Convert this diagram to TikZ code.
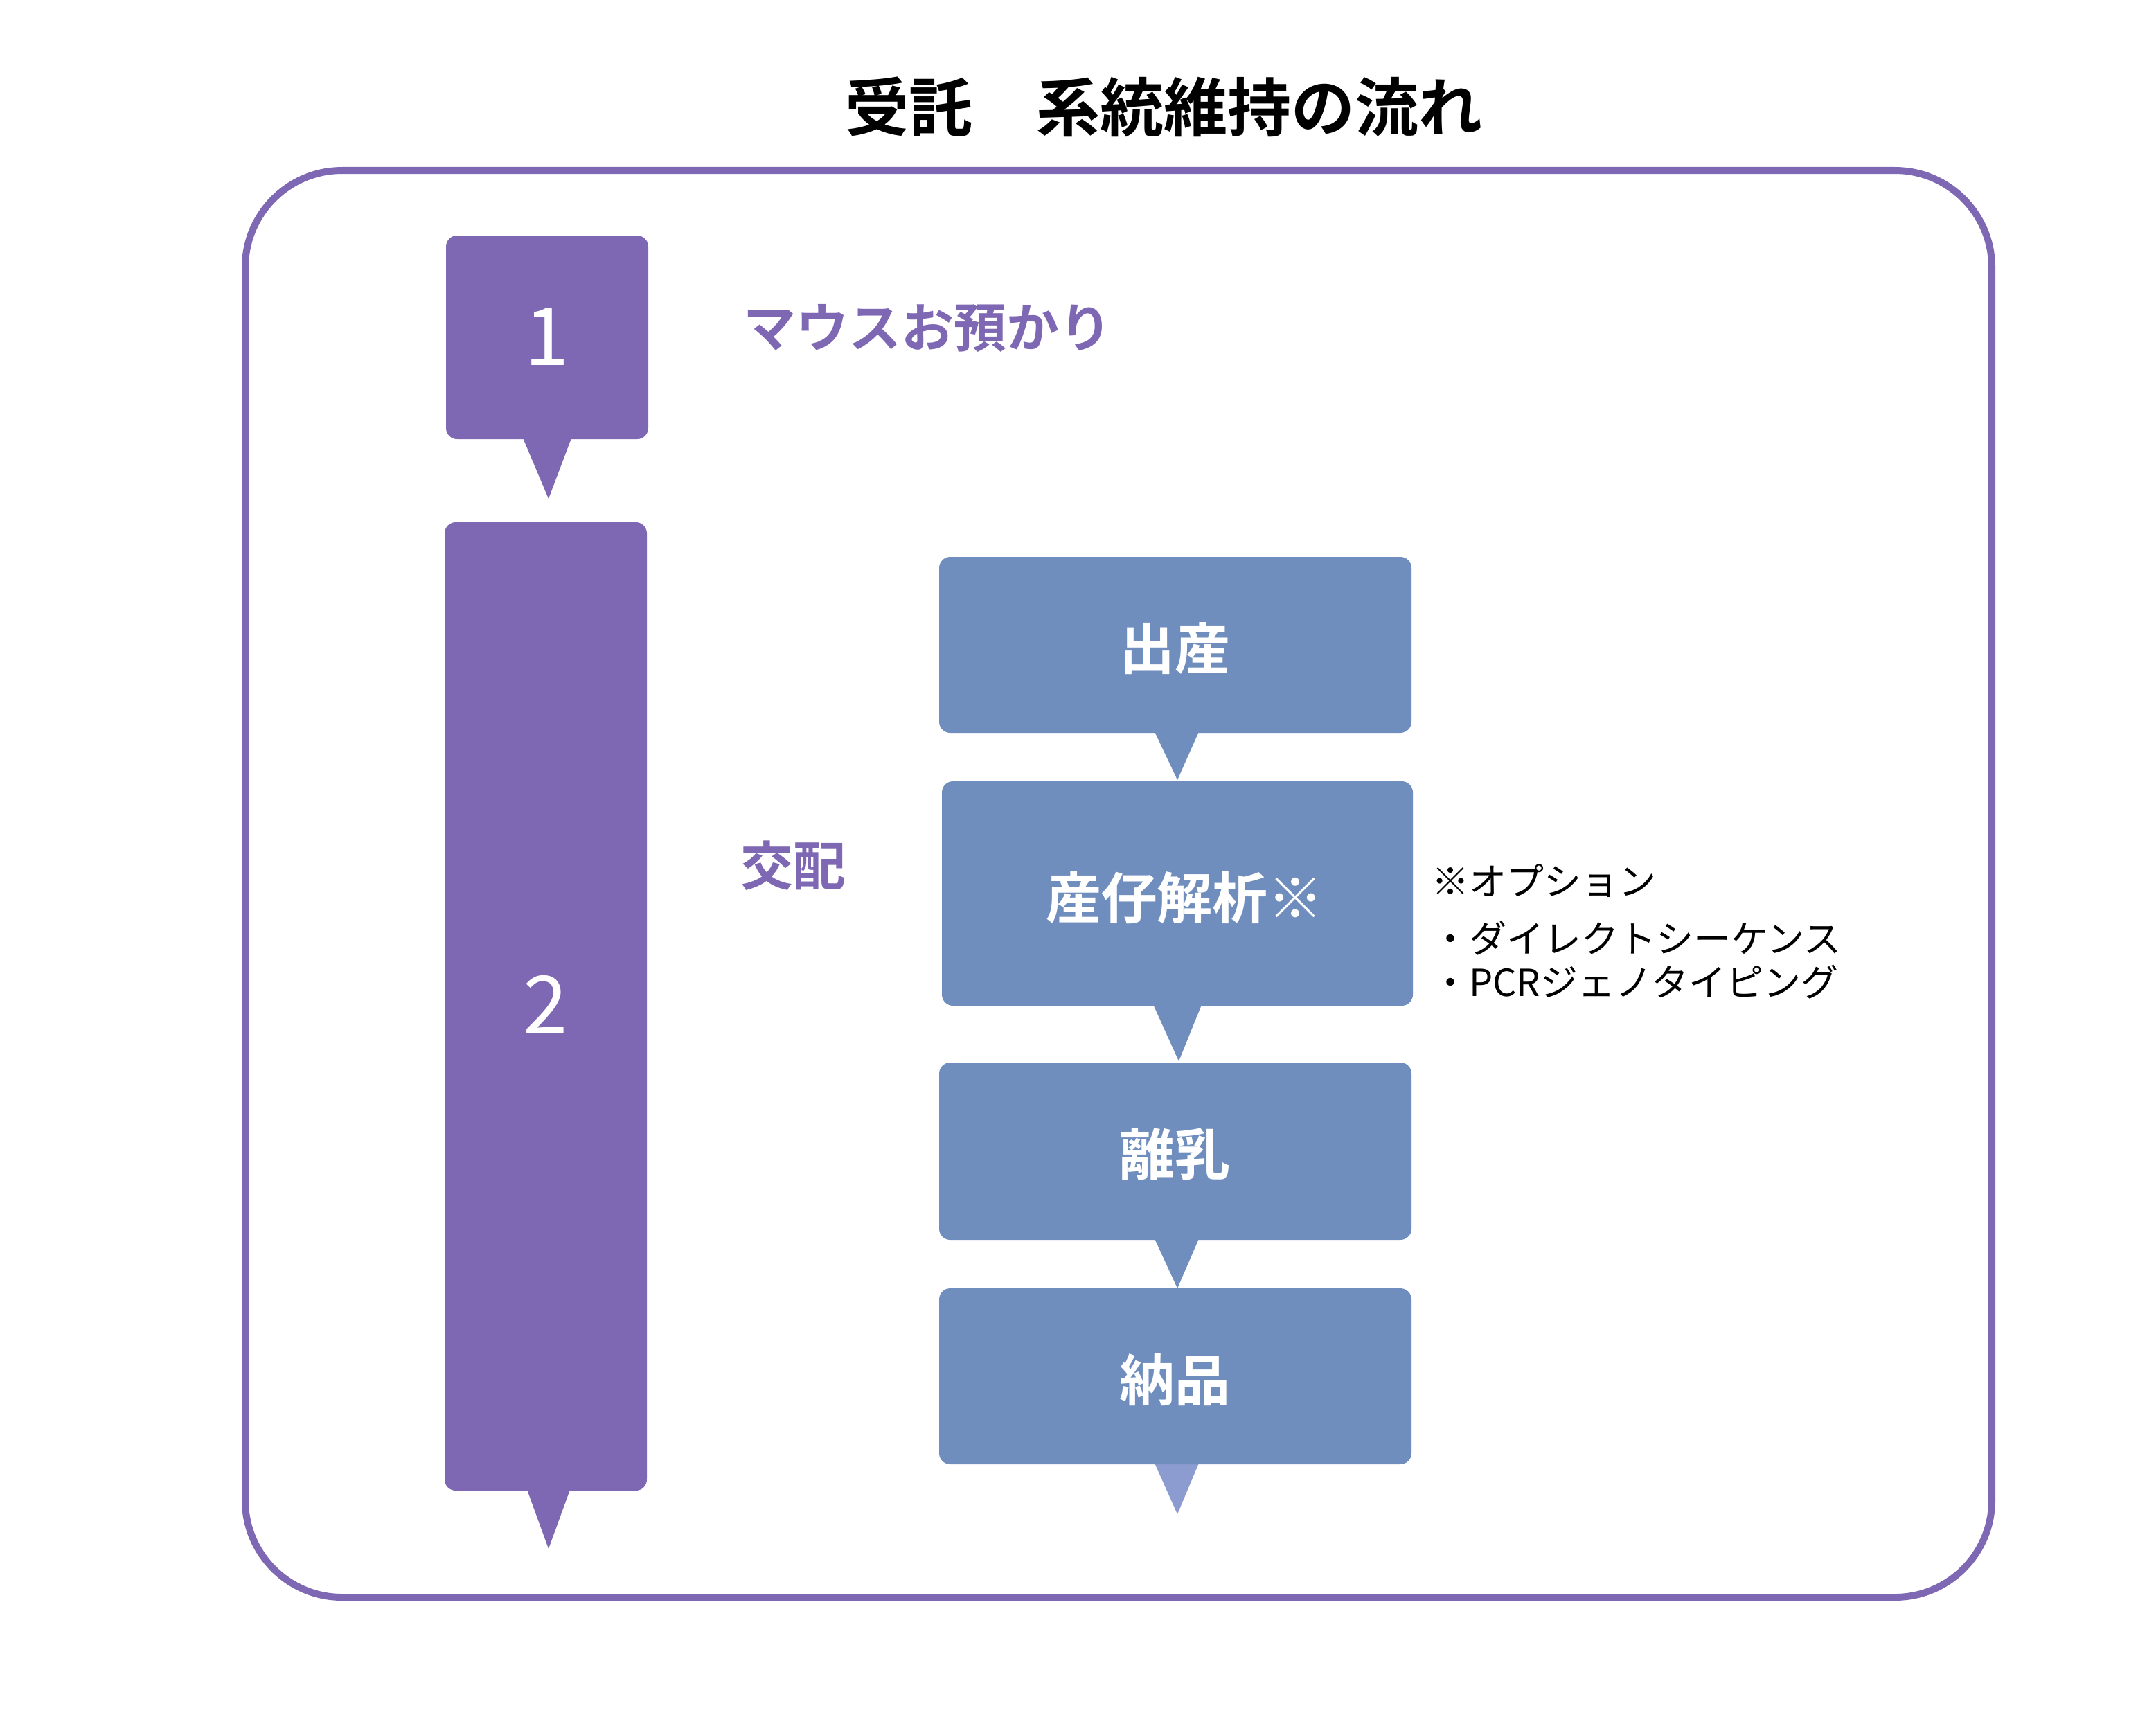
\documentclass[tikz,border=0pt]{standalone}
\usepackage{fontspec}
\setmainfont{Noto Sans CJK JP}
\newfontfamily\jpb{Noto Sans CJK JP Bold}
\definecolor{pur}{HTML}{7F68B3}
\definecolor{blu}{HTML}{6F8EBE}
\definecolor{lblu}{HTML}{8C9BD0}
\begin{document}
\begin{tikzpicture}[x=1pt,y=-1pt,
 pbox/.style={fill=pur,rounded corners=8pt},
 bbox/.style={fill=blu,rounded corners=8pt},
 wt/.style={text=white,font=\jpb\fontsize{40}{44}\selectfont},
 num/.style={text=white,font=\fontsize{58}{62}\selectfont},
 plab/.style={text=pur,font=\jpb\fontsize{38}{42}\selectfont,anchor=west},
 note/.style={font=\fontsize{27}{30}\selectfont,anchor=west}]
\useasboundingbox (0,0) rectangle (1556.5,1244);
\node[font=\jpb\fontsize{46}{50}\selectfont] (title) at (840,77) {受託\hspace{1em}系統維持の流れ};
\draw[pur,line width=5pt,rounded corners=70pt] (177,123) rectangle (1438,1153);
% step 1
\fill[pur] (377,315) -- (413,315) -- (396,360) -- cycle;
\path[pbox] (322,170) rectangle (468,317);
\node[num] (n1) at (395,243) {1};
% step 2
\fill[pur] (380,1074) -- (412,1074) -- (396,1118) -- cycle;
\path[pbox] (321,377) rectangle (467,1076);
\node[num] (n2) at (394,725) {2};
\node[plab] (l1) at (533,237) {マウスお預かり};
\node[plab] (l2) at (531,625) {交配};
% blue boxes
\fill[blu] (833,527) -- (866,527) -- (850,563) -- cycle;
\path[bbox] (678,402) rectangle (1019,529);
\node[wt] (a) at (848,468) {出産};
\fill[blu] (832,724) -- (868,724) -- (851,766) -- cycle;
\path[bbox] (680,564) rectangle (1020,726);
\node[wt] (b) at (855,648) {産仔解析※};
\fill[blu] (833,893) -- (866,893) -- (850,930) -- cycle;
\path[bbox] (678,767) rectangle (1019,895);
\node[wt] (c) at (848,833) {離乳};
\fill[lblu] (833,1055) -- (866,1055) -- (850,1093) -- cycle;
\path[bbox] (678,930) rectangle (1019,1057);
\node[wt] (d) at (848,996) {納品};
\node[note] (o1) at (1030,636) {※オプション};
\node[note] (o2) at (1030,677) {・ダイレクトシーケンス};
\node[note] (o3) at (1030,709) {・PCRジェノタイピング};
\end{tikzpicture}
\end{document}
